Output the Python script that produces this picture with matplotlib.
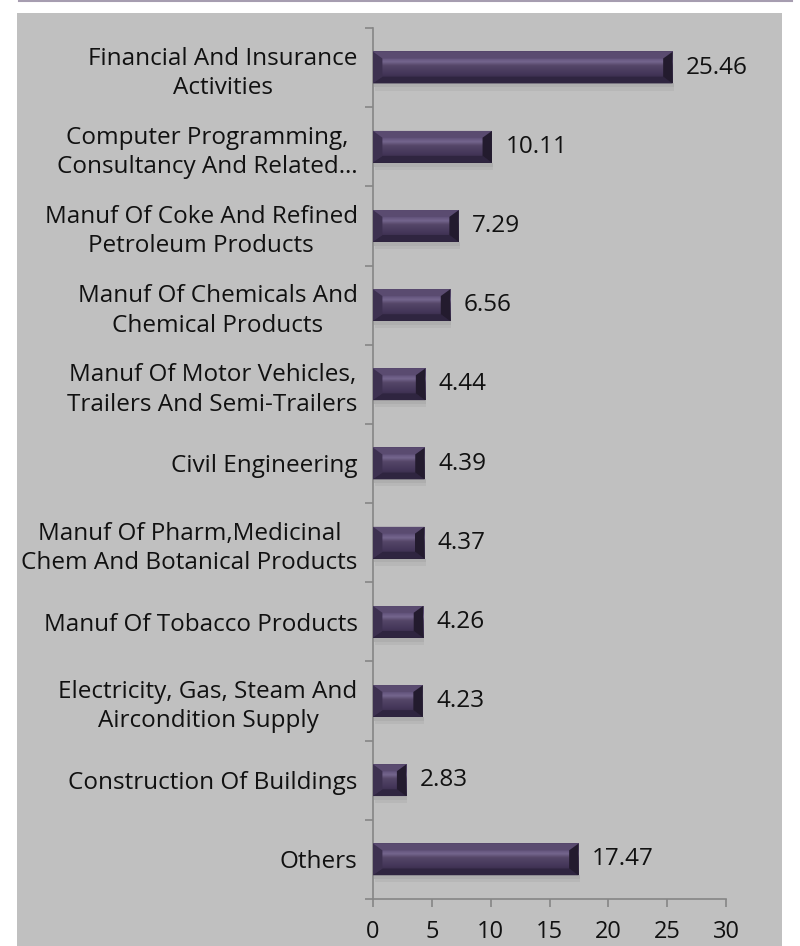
import numpy as np
import matplotlib
matplotlib.use("Agg")
import matplotlib.pyplot as plt
from matplotlib.patches import Polygon, Rectangle
from matplotlib.colors import LinearSegmentedColormap

categories = [
    "Financial And Insurance\nActivities",
    "Computer Programming,\nConsultancy And Related\u2026",
    "Manuf Of Coke And Refined\nPetroleum Products",
    "Manuf Of Chemicals And\nChemical Products",
    "Manuf Of Motor Vehicles,\nTrailers And Semi-Trailers",
    "Civil Engineering",
    "Manuf Of Pharm,Medicinal\nChem And Botanical Products",
    "Manuf Of Tobacco Products",
    "Electricity, Gas, Steam And\nAircondition Supply",
    "Construction Of Buildings",
    "Others",
]
values = [25.46, 10.11, 7.29, 6.56, 4.44, 4.39, 4.37, 4.26, 4.23, 2.83, 17.47]
xticks = [0, 5, 10, 15, 20, 25, 30]

plt.rcParams['font.family'] = ['Open Sans', 'DejaVu Sans']

W, H = 800, 946
fig = plt.figure(figsize=(W / 100, H / 100), dpi=100)
fig.patch.set_facecolor("white")

# grey plot-area background and thin top rule
fig.add_artist(Rectangle((17 / W, 0), (782 - 17) / W, 1 - 13 / H,
                         transform=fig.transFigure, facecolor="#c0c0c0",
                         edgecolor="none", zorder=0))
fig.add_artist(plt.Line2D([19 / W, 792 / W], [1 - 0.8 / H, 1 - 0.8 / H],
                          transform=fig.transFigure, color="#a69db0", lw=1.5))

ax = fig.add_axes([373 / W, 1 - 899 / H, (726 - 373) / W, (899 - 28) / H])
ax.set_facecolor("none")

n = len(categories)
ypos = np.arange(n)
bh = 0.4
bars = ax.barh(ypos, values, height=bh, color="#463858", zorder=3)

ax.set_xlim(0, 30)
ax.set_ylim(n - 0.5, -0.5)

# bevel / gradient styling derived from each bar's geometry
grad = np.linspace(0, 1, 64).reshape(-1, 1)
cmap = LinearSegmentedColormap.from_list(
    "bev", [(0.0, "#54456a"), (0.2, "#5f5078"), (0.33, "#75668e"),
            (0.45, "#554768"), (0.7, "#45375a"), (0.85, "#3a2e4c"),
            (1.0, "#2a2138")])
bx = 0.8   # horizontal bevel (data units)
by = 0.085  # vertical bevel (category units)
for b in bars:
    x0, w = b.get_x(), b.get_width()
    y0, hh = b.get_y(), b.get_height()
    x1, y1 = x0 + w, y0 + hh
    # soft shadow
    ax.add_patch(Rectangle((x0 + 0.1, y1), w, 0.05, facecolor="#a2a2a2",
                           edgecolor="none", alpha=0.6, zorder=2))
    ax.add_patch(Rectangle((x0 + 0.2, y1 + 0.05), w - 0.1, 0.04, facecolor="#b0b0b0",
                           edgecolor="none", alpha=0.5, zorder=2))
    ax.imshow(grad, cmap=cmap, aspect="auto", extent=(x0, x1, y1, y0),
              zorder=3.5, interpolation="bilinear")
    bxx = min(bx, w / 2)
    ax.add_patch(Polygon([(x0, y0), (x1, y0), (x1 - bxx, y0 + by), (x0 + bxx, y0 + by)],
                         closed=True, facecolor="#5a4b70", edgecolor="none", zorder=4))
    ax.add_patch(Polygon([(x0, y1), (x1, y1), (x1 - bxx, y1 - by), (x0 + bxx, y1 - by)],
                         closed=True, facecolor="#2f2540", edgecolor="none", zorder=4))
    ax.add_patch(Polygon([(x0, y0), (x0 + bxx, y0 + by), (x0 + bxx, y1 - by), (x0, y1)],
                         closed=True, facecolor="#3d3150", edgecolor="none", zorder=4))
    ax.add_patch(Polygon([(x1, y0), (x1 - bxx, y0 + by), (x1 - bxx, y1 - by), (x1, y1)],
                         closed=True, facecolor="#231b2e", edgecolor="none", zorder=4))
    ax.text(x1 + 1.15, (y0 + y1) / 2, f"{w:.2f}", va="center", ha="left",
            fontsize=17.5, color="#111111", zorder=5)

for s in ["top", "right"]:
    ax.spines[s].set_visible(False)
for s in ["left", "bottom"]:
    ax.spines[s].set_color("#868686")
    ax.spines[s].set_linewidth(1.2)

ax.set_yticks(ypos)
ax.set_yticklabels(categories, fontsize=17.5, color="#111111")
for t in ax.get_yticklabels():
    t.set_multialignment("center")
    t.set_linespacing(1.3)
ax.set_yticks(np.arange(-0.5, n, 1), minor=True)
ax.tick_params(axis="y", which="major", length=0, pad=11)
ax.tick_params(axis="y", which="minor", length=6, width=1.2, color="#868686")

ax.set_xticks(xticks)
ax.set_xticklabels([str(v) for v in xticks], fontsize=17, color="#111111")
ax.tick_params(axis="x", length=6, width=1.2, color="#868686", pad=9)

fig.savefig("out.png", dpi=100, facecolor="white")
